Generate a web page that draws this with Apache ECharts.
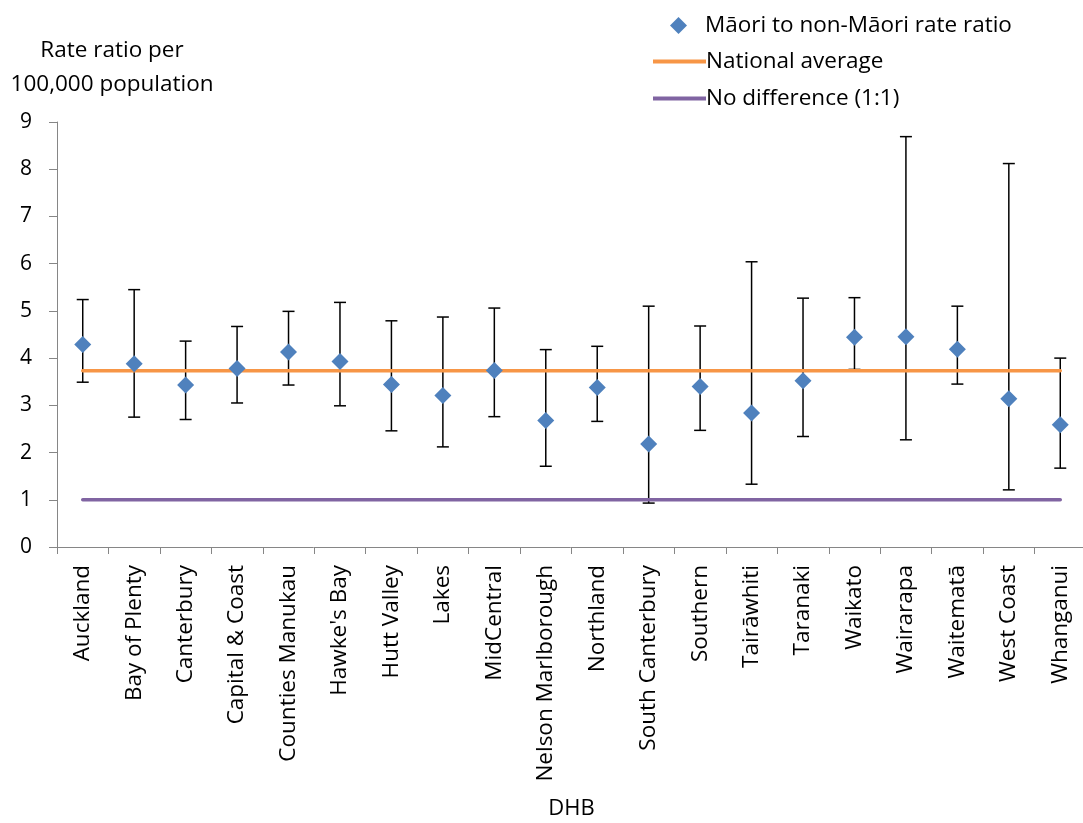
<!DOCTYPE html>
<html>
<head>
<meta charset="utf-8">
<script src="https://cdn.jsdelivr.net/npm/echarts@6/dist/echarts.min.js"></script>
<style>
html,body{margin:0;padding:0;background:#fff;}
#chart{width:1083px;height:823px;}
</style>
</head>
<body>
<div id="chart"></div>
<script>
const categories = ["Auckland","Bay of Plenty","Canterbury","Capital & Coast","Counties Manukau","Hawke's Bay","Hutt Valley","Lakes","MidCentral","Nelson Marlborough","Northland","South Canterbury","Southern","Tairāwhiti","Taranaki","Waikato","Wairarapa","Waitematā","West Coast","Whanganui"];
const rateRatio = [4.29,3.88,3.43,3.78,4.13,3.93,3.44,3.21,3.74,2.68,3.38,2.18,3.40,2.84,3.52,4.44,4.45,4.19,3.14,2.59];
const lowerCI  = [3.49,2.75,2.70,3.05,3.43,2.99,2.46,2.12,2.76,1.71,2.66,0.93,2.47,1.33,2.34,3.76,2.27,3.45,1.21,1.67];
const upperCI  = [5.24,5.45,4.36,4.67,4.99,5.18,4.79,4.87,5.06,4.18,4.25,5.10,4.68,6.04,5.27,5.28,8.69,5.10,8.12,4.00];
const nationalAverage = 3.73;
const noDifference = 1;
const yTicks = [0,1,2,3,4,5,6,7,8,9];

const FONT = "'Open Sans', 'Noto Sans', sans-serif";
const chart = echarts.init(document.getElementById('chart'), null, {renderer:'canvas'});

const errData = categories.map((c,i)=>[i, lowerCI[i], upperCI[i]]);
const legendText = {fontFamily:FONT, fontSize:22.5, color:'#000', lineHeight:22};

chart.setOption({
  animation:false,
  backgroundColor:'#fff',
  textStyle:{fontFamily:FONT},
  grid:{left:57, top:122, width:1029, height:425, containLabel:false, outerBoundsMode:'none'},
  legend:[
    {
      left:665, top:9, itemWidth:17, itemHeight:17, itemGap:0,
      textStyle:Object.assign({}, legendText, {padding:[0,0,0,13]}),
      data:[{name:'Māori to non-Māori rate ratio', icon:'diamond'}]
    },
    {
      left:648, top:45, itemWidth:53, itemHeight:4, itemGap:0,
      textStyle:Object.assign({}, legendText, {padding:[0,0,0,-5]}),
      data:[{name:'National average', icon:'rect'}]
    },
    {
      left:648, top:82, itemWidth:53, itemHeight:4, itemGap:0,
      textStyle:Object.assign({}, legendText, {padding:[0,0,0,-5]}),
      data:[{name:'No difference (1:1)', icon:'rect'}]
    }
  ],
  xAxis:{
    type:'category', data:categories, boundaryGap:true,
    name:'DHB', nameLocation:'middle', nameGap:251,
    nameTextStyle:{fontFamily:FONT, fontSize:22, color:'#000'},
    axisLine:{lineStyle:{color:'#868686', width:1}},
    axisTick:{show:true, alignWithLabel:false, length:7, lineStyle:{color:'#868686'}},
    axisLabel:{rotate:90, margin:18, fontFamily:FONT, fontSize:22.5, color:'#000', interval:0},
    splitLine:{show:false}
  },
  yAxis:{
    type:'value', min:0, max:9, interval:1,
    name:'Rate ratio per\n100,000 population', nameLocation:'end', nameGap:20,
    nameTextStyle:{fontFamily:FONT, fontSize:22.5, color:'#000', align:'center', lineHeight:34, padding:[0,0,0,110]},
    axisLine:{show:true, lineStyle:{color:'#868686', width:1}},
    axisTick:{show:true, length:8, lineStyle:{color:'#868686'}},
    axisLabel:{margin:25, fontFamily:FONT, fontSize:21, color:'#000',
      formatter:(v)=> yTicks.includes(v) ? String(v) : ''},
    splitLine:{show:false}
  },
  series:[
    {
      name:'errorbars', type:'custom', z:2,
      renderItem:function(params, api){
        const x = api.value(0);
        const lo = api.coord([x, api.value(1)]);
        const hi = api.coord([x, api.value(2)]);
        const hw = 6;
        const st = {stroke:'#000', lineWidth:1.5};
        return {type:'group', children:[
          {type:'line', shape:{x1:lo[0], y1:lo[1], x2:hi[0], y2:hi[1]}, style:st},
          {type:'line', shape:{x1:lo[0]-hw, y1:lo[1], x2:lo[0]+hw, y2:lo[1]}, style:st},
          {type:'line', shape:{x1:hi[0]-hw, y1:hi[1], x2:hi[0]+hw, y2:hi[1]}, style:st}
        ]};
      },
      encode:{x:0, y:[1,2]},
      data:errData,
      silent:true
    },
    {
      name:'National average', type:'line', z:3,
      data:categories.map(()=>nationalAverage),
      symbol:'none', lineStyle:{color:'#F79646', width:3.5, cap:'round'},
      itemStyle:{color:'#F79646'}
    },
    {
      name:'No difference (1:1)', type:'line', z:3,
      data:categories.map(()=>noDifference),
      symbol:'none', lineStyle:{color:'#8064A2', width:3.5, cap:'round'},
      itemStyle:{color:'#8064A2'}
    },
    {
      name:'Māori to non-Māori rate ratio', type:'scatter', z:4,
      data:rateRatio, symbol:'diamond', symbolSize:17,
      itemStyle:{color:'#4F81BD', opacity:1}
    }
  ]
});
</script>
</body>
</html>
